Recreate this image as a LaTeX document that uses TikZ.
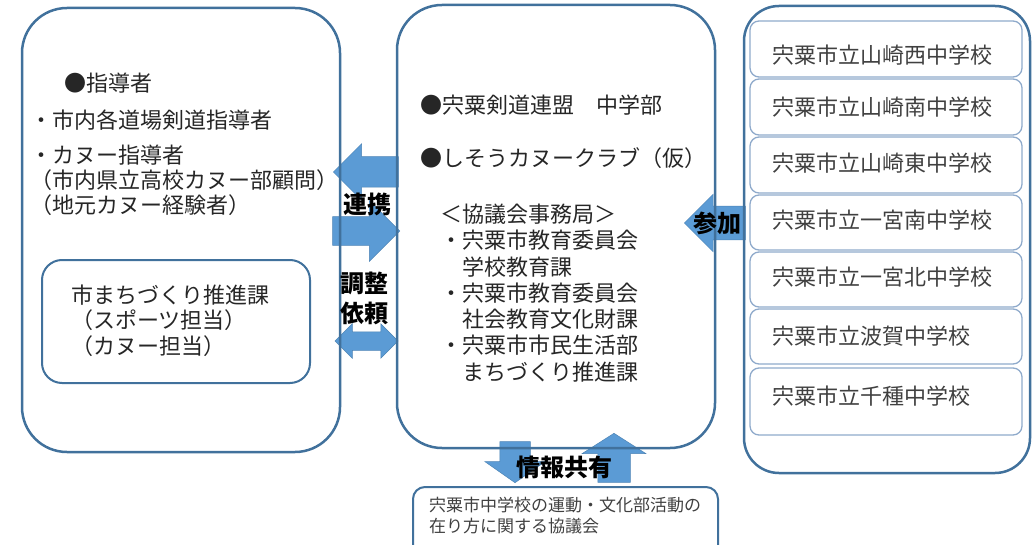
\documentclass[tikz,border=0pt]{standalone}
\usepackage{fontspec}
\setmainfont{Noto Sans CJK JP}
\usetikzlibrary{shapes.arrows}
\definecolor{frameBlue}{HTML}{41719C}
\definecolor{arrowBlue}{HTML}{5B9BD5}
\definecolor{schoolLine}{HTML}{8FAACB}
\definecolor{txtDark}{HTML}{262626}
\definecolor{txtGray}{HTML}{404040}

\begin{document}
\begin{tikzpicture}[x=1pt,y=-1pt,
bigbox/.style={draw=frameBlue,line width=2.5pt,rounded corners=#1,inner sep=0pt},bigbox/.default=45pt,
innerbox/.style={draw=frameBlue,line width=2pt,rounded corners=20pt,inner sep=0pt},
schoolbox/.style={draw=schoolLine,line width=1.3pt,rounded corners=9pt,minimum width=272,inner sep=0pt},
blockarr/.style={single arrow,single arrow head indent=0pt,inner xsep=0pt,minimum width=0pt,fill=arrowBlue,draw=arrowBlue!85!black,line width=0.5pt},
dblarr/.style={double arrow,double arrow head indent=0pt,inner xsep=0pt,minimum width=0pt,fill=arrowBlue,draw=arrowBlue!85!black,line width=0.5pt},
txt/.style={anchor=west,inner sep=0pt,text=txtDark,font=\fontsize{22}{26}\selectfont},
lbl/.style={inner sep=0pt,font=\fontsize{24}{26}\selectfont\bfseries}]
\useasboundingbox (0,0) rectangle (1032,545);
% block arrows (under the frames)
\node[blockarr,shape border rotate=180,anchor=tip,minimum height=65,inner ysep=15,single arrow head extend=13] (renkeiL) at (333,172) {};
\node[blockarr,anchor=tip,minimum height=67,inner ysep=14,single arrow head extend=16] (renkeiR) at (400,231) {};
\node[dblarr,minimum height=63,inner ysep=9,double arrow head extend=8] (chosei) at (366.5,341) {};
\node[blockarr,shape border rotate=180,anchor=tip,minimum height=61,inner ysep=16.5,single arrow head extend=12] (sanka) at (684,223) {};
\node[blockarr,shape border rotate=270,anchor=tip,minimum height=41,inner ysep=0pt,inner xsep=15,single arrow head extend=15,single arrow tip angle=110] (johoDown) at (515,483) {};
\node[blockarr,shape border rotate=90,anchor=tip,minimum height=49,inner ysep=0pt,inner xsep=16,single arrow head extend=15.5,single arrow tip angle=115] (johoUp) at (614,433) {};
% frames
\node[bigbox,minimum width=318,minimum height=444] (leftBox) at (181,230) {};
\node[innerbox,minimum width=268,minimum height=123] (cityBox) at (176,321.5) {};
\node[bigbox,minimum width=318,minimum height=443] (centerBox) at (556,226.5) {};
\node[bigbox=35pt,minimum width=286,minimum height=467] (schoolsBox) at (887,239.5) {};
\node[innerbox,rounded corners=12pt,minimum width=305,minimum height=74] (councilBox) at (565.5,524) {};
\foreach \yc/\hh/\ty/\sname [count=\i] in {49/56/55/山崎西,107/56/107/山崎南,165/56/163/山崎東,222.5/55/220/一宮南,279.5/55/277/一宮北,336.5/55/336/波賀,401.5/67/396/千種}{
  \node[schoolbox,minimum height=\hh] (school\i) at (886,\yc) {};
  \node[txt,text=txtGray] (schoolText\i) at (772,\ty) {宍粟市立\sname 中学校};
}
% left side
\node[txt] (leadHead) at (64,83) {●指導者};
\node[txt] (leadKendo) at (30,120) {・市内各道場剣道指導者};
\node[txt] (leadCanoe) at (30,155) {・カヌー指導者};
\node[txt,align=left,font=\fontsize{22}{25}\selectfont] (leadCanoeSub) at (30,192.5) {（市内県立高校カヌー部顧問）\\（地元カヌー経験者）};
\node[txt,align=left,font=\fontsize{22}{25.5}\selectfont] (cityText) at (71,320.5) {市まちづくり推進課\\（スポーツ担当）\\（カヌー担当）};
% center
\node[txt] (kendoText) at (420,105) {●宍粟剣道連盟　中学部};
\node[txt] (canoeText) at (420,158) {●しそうカヌークラブ（仮）};
\node[txt,align=left,font=\fontsize{22}{26.3}\selectfont] (officeText) at (440,293) {＜協議会事務局＞\\・宍粟市教育委員会\\　学校教育課\\・宍粟市教育委員会\\　社会教育文化財課\\・宍粟市市民生活部\\　まちづくり推進課};
\node[txt,text=txtGray,align=left,font=\fontsize{17}{21}\selectfont] (councilText) at (429,515.5) {宍粟市中学校の運動・文化部活動の\\在り方に関する協議会};
% arrow labels
\node[lbl] (renkeiLbl) at (367,204) {連携};
\node[lbl] (choseiLbl) at (364,283) {調整};
\node[lbl] (iraiLbl) at (364,313) {依頼};
\node[lbl] (sankaLbl) at (717,223) {参加};
\node[lbl] (johoLbl) at (564,467) {情報共有};
\end{tikzpicture}
\end{document}
